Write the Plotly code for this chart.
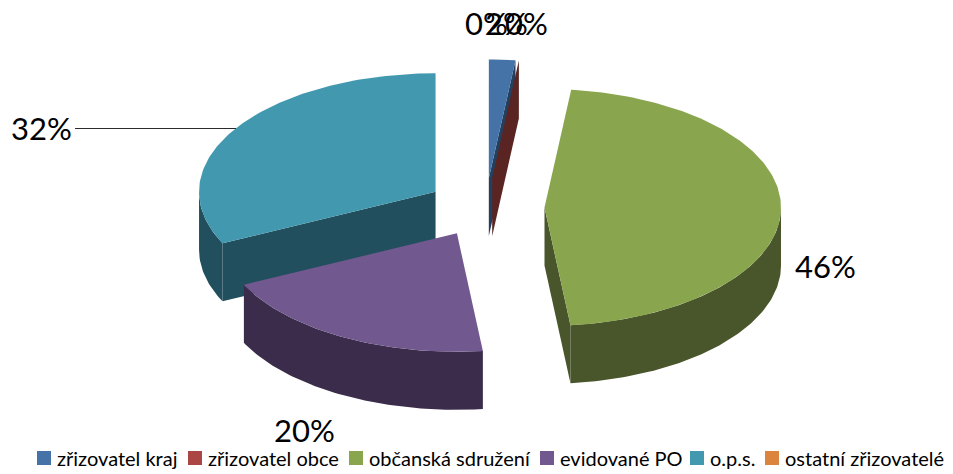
import math
import plotly.graph_objects as go

categories = ["zřizovatel kraj", "zřizovatel obce", "občanská sdružení", "evidované PO", "o.p.s.", "ostatní zřizovatelé"]
shares = [1.8, 0.0, 46.45, 19.6, 32.15, 0.0]
top_colors = ["#4572A7", "#AA4643", "#89A54E", "#71588F", "#4198AF", "#DB843D"]
wall_colors = ["#24405F", "#5A2423", "#49552A", "#3B2C4B", "#224F5E", "#74451F"]
label_centers = [(506, 23), (526, 23), (825, 266), (304, 429.5), (41, 128), (486, 23)]
legend_text_x = [57, 208, 369, 560, 710, 785]

W, H = 953, 474
CX, CY, RX, RY, DEPTH, EXPLODE = 485.5, 207.5, 236.5, 118.5, 58, 59
STEP = 1.0
FONT = "Lato"


def pt(ox, oy, deg, dz=0):
    a = math.radians(deg)
    return ox + RX * math.sin(a), oy - RY * math.cos(a) + dz


def arc(ox, oy, s, e, dz=0):
    n = max(1, int(abs(e - s) / STEP))
    return [pt(ox, oy, s + (e - s) * i / n, dz) for i in range(n + 1)]


def poly(points, color):
    return go.Scatter(
        x=[p[0] for p in points], y=[p[1] for p in points],
        mode="lines", fill="toself", fillcolor=color,
        line=dict(width=0, color=color), hoverinfo="skip", showlegend=False,
    )


def edge_visible(edge_deg, inner_deg):
    dx, dy = math.sin(math.radians(edge_deg)), -0.5 * math.cos(math.radians(edge_deg))
    mx, my = math.sin(math.radians(inner_deg)), -0.5 * math.cos(math.radians(inner_deg))
    if abs(dx) < 1e-6:
        return False
    return my < dy / dx * mx


total = sum(shares)
starts, a = [], 0.0
for v in shares:
    starts.append(a)
    a += v / total * 360

fig = go.Figure()
for i in [5, 0, 1, 4, 2, 3]:
    s = starts[i]
    e = s + shares[i] / total * 360
    mid = (s + e) / 2
    ox = CX + EXPLODE * math.sin(math.radians(mid))
    oy = CY - 0.5 * EXPLODE * math.cos(math.radians(mid))
    inner = mid if e > s else s - 1
    for edge in ([s, e] if e > s else [e]):
        if edge_visible(edge, inner):
            t = pt(ox, oy, edge)
            b = pt(ox, oy, edge, DEPTH)
            fig.add_trace(poly([(ox, oy), t, b, (ox, oy + DEPTH)], wall_colors[i]))
    lo, hi = max(s, 90), min(e, 270)
    if hi > lo:
        fig.add_trace(poly(arc(ox, oy, lo, hi) + arc(ox, oy, hi, lo, DEPTH), wall_colors[i]))
    if e > s:
        fig.add_trace(poly([(ox, oy)] + arc(ox, oy, s, e), top_colors[i]))

layout_legends = {}
for i, name in enumerate(categories):
    key = "legend" if i == 0 else f"legend{i + 1}"
    fig.add_trace(go.Scatter(
        x=[None], y=[None], mode="markers", name=name, legend=key, showlegend=True,
        marker=dict(symbol="square", size=14, color=top_colors[i]),
    ))
    layout_legends[key] = dict(
        x=(legend_text_x[i] - 40) / W, xanchor="left", y=(H - 458) / H, yanchor="middle",
        bgcolor="rgba(0,0,0,0)", borderwidth=0, orientation="h",
        font=dict(family=FONT, size=20, color="#000000"),
    )

for i, (lx, ly) in enumerate(label_centers):
    fig.add_annotation(x=lx, y=ly, xref="x", yref="y", text=f"{round(shares[i])}%", showarrow=False,
                       font=dict(family=FONT, size=31, color="#000000"))

fig.add_shape(type="line", x0=75, x1=236, y0=128.5, y1=128.5, xref="x", yref="y",
              line=dict(color="#2b2b2b", width=1))

fig.update_layout(
    width=W, height=H, autosize=False, margin=dict(l=0, r=0, t=0, b=0, autoexpand=False),
    paper_bgcolor="white", plot_bgcolor="white",
    xaxis=dict(range=[0, W], visible=False, fixedrange=True),
    yaxis=dict(range=[H, 0], visible=False, fixedrange=True),
    **layout_legends,
)
fig.write_html(
    "out.html", config={"displayModeBar": False},
    post_script=(
        "document.body.style.margin='0';document.documentElement.style.overflow='hidden';"
        "var gd=document.getElementById('{plot_id}');"
        "function nudge(){gd.querySelectorAll('.legendsymbols').forEach(function(n){"
        "n.setAttribute('transform','translate(7,0)');});}"
        "gd.on('plotly_afterplot',nudge);nudge();setTimeout(nudge,50);"
    ),
)
